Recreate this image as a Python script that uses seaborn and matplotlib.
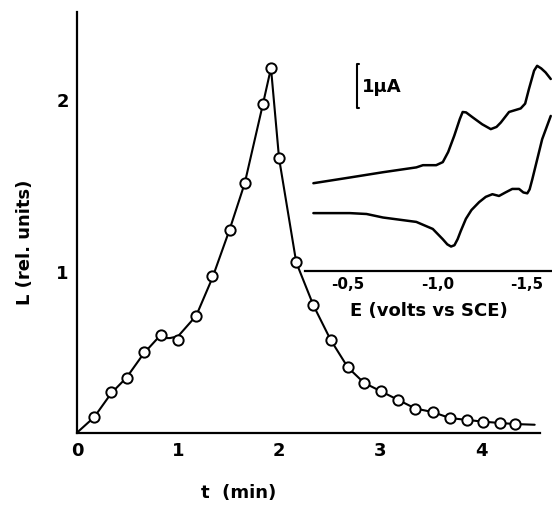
import numpy as np
import matplotlib
matplotlib.use("Agg")
import matplotlib.pyplot as plt
import seaborn as sns

# Main plot: L vs t (markers)
t_pts = [0.17, 0.34, 0.49, 0.66, 0.83, 1.00, 1.18, 1.34, 1.51, 1.66, 1.84, 1.92,
         2.00, 2.17, 2.34, 2.51, 2.68, 2.84, 3.01, 3.18, 3.35, 3.52, 3.69, 3.86,
         4.02, 4.19, 4.34]
L_pts = [0.15, 0.295, 0.38, 0.53, 0.63, 0.60, 0.74, 0.97, 1.24, 1.51, 1.97, 2.18,
         1.655, 1.05, 0.80, 0.60, 0.44, 0.35, 0.30, 0.25, 0.20, 0.18, 0.145, 0.134,
         0.124, 0.116, 0.11]

# Drawn curve (passes near the markers)
t_curve = [0.0, 0.17, 0.34, 0.49, 0.66, 0.80, 0.92, 1.00, 1.18, 1.34, 1.51, 1.66,
           1.84, 1.92, 2.00, 2.17, 2.34, 2.51, 2.68, 2.84, 3.01, 3.18, 3.35, 3.52,
           3.69, 3.86, 4.02, 4.19, 4.34, 4.53]
L_curve = [0.06, 0.15, 0.29, 0.38, 0.52, 0.61, 0.61, 0.62, 0.74, 0.96, 1.24, 1.51,
           1.97, 2.18, 1.655, 1.05, 0.80, 0.60, 0.44, 0.35, 0.30, 0.25, 0.20, 0.18,
           0.145, 0.134, 0.124, 0.116, 0.11, 0.106]

# Inset: cyclic voltammogram (E in V vs SCE, current in uA, arbitrary offset)
E_fwd = [-0.307, -0.511, -0.696, -0.882, -0.919, -0.993, -1.030, -1.060, -1.094,
         -1.125, -1.141, -1.160, -1.196, -1.250, -1.298, -1.330, -1.354, -1.400,
         -1.465, -1.490, -1.511, -1.540, -1.557, -1.580, -1.604, -1.633]
i_fwd = [1.99, 2.12, 2.24, 2.35, 2.40, 2.40, 2.47, 2.70, 3.07,
         3.45, 3.61, 3.60, 3.49, 3.33, 3.22, 3.27, 3.37, 3.61,
         3.69, 3.80, 4.13, 4.55, 4.66, 4.60, 4.51, 4.36]
E_rev = [-1.633, -1.585, -1.530, -1.515, -1.502, -1.480, -1.456, -1.418, -1.380,
         -1.344, -1.307, -1.270, -1.233, -1.190, -1.159, -1.130, -1.113, -1.095,
         -1.076, -1.055, -1.029, -0.974, -0.882, -0.696, -0.604, -0.511, -0.307]
i_rev = [3.52, 2.99, 2.08, 1.85, 1.76, 1.78, 1.86, 1.86, 1.78,
         1.70, 1.74, 1.68, 1.56, 1.38, 1.18, 0.90, 0.72, 0.58,
         0.55, 0.60, 0.72, 0.95, 1.11, 1.21, 1.29, 1.31, 1.31]
E_ticks = [-0.5, -1.0, -1.5]
E_ticklabels = ["-0,5", "-1,0", "-1,5"]

sns.set_style("white")
plt.rcParams['font.family'] = ['DejaVu Sans']
plt.rcParams['font.weight'] = 'bold'
plt.rcParams['text.color'] = 'black'
plt.rcParams['axes.labelcolor'] = 'black'
plt.rcParams['xtick.color'] = 'black'
plt.rcParams['ytick.color'] = 'black'

fig = plt.figure(figsize=(5.52, 5.06), dpi=100)
ax = fig.add_axes([0.1395, 0.1423, 0.839, 0.832])

sns.lineplot(x=t_curve, y=L_curve, ax=ax, color="black", linewidth=1.5,
             estimator=None, sort=False)
sns.scatterplot(x=t_pts, y=L_pts, ax=ax, marker="o", s=55, facecolor="white",
                edgecolor="black", linewidth=1.4, zorder=3)

ax.set_xlim(0, 4.584)
ax.set_ylim(0.058, 2.506)
ax.set_xticks([0, 1, 2, 3, 4])
ax.set_yticks([1, 2])
ax.tick_params(direction="in", length=6, width=1.5, labelsize=13, pad=6)
for lab in ax.get_xticklabels() + ax.get_yticklabels():
    lab.set_fontweight("bold")
sns.despine(ax=ax)
for s in ["left", "bottom"]:
    ax.spines[s].set_linewidth(1.6)
    ax.spines[s].set_color("black")
ax.set_xlabel("t  (min)", fontsize=13, fontweight="bold")
ax.set_ylabel("L (rel. units)", fontsize=13, fontweight="bold")
ax.xaxis.set_label_coords(0.35, -0.118)
ax.yaxis.set_label_coords(-0.092, 0.455)

# Inset
ins = fig.add_axes([0.5525, 0.463, 0.4475, 0.438])
ins.set_facecolor("none")
sns.lineplot(x=E_fwd, y=i_fwd, ax=ins, color="black", linewidth=1.8,
             estimator=None, sort=False)
sns.lineplot(x=E_rev, y=i_rev, ax=ins, color="black", linewidth=1.8,
             estimator=None, sort=False)
ins.set_xlim(-0.26, -1.64)
ins.set_ylim(0, 5.04)
ins.set_xticks(E_ticks)
ins.set_xticklabels(E_ticklabels)
ins.set_yticks([])
ins.tick_params(axis="x", direction="in", length=5, width=1.3, labelsize=11, pad=4)
for lab in ins.get_xticklabels():
    lab.set_fontweight("bold")
for s in ["left", "top", "right"]:
    ins.spines[s].set_visible(False)
ins.spines["bottom"].set_linewidth(1.6)
ins.spines["bottom"].set_color("black")
ins.set_xlabel("E (volts vs SCE)", fontsize=13, fontweight="bold", labelpad=7)

# 1 uA scale bar, drawn as a "[" bracket
ins.plot([-0.560, -0.548, -0.548, -0.560], [4.70, 4.70, 3.69, 3.69],
         color="black", linewidth=1.5)
ins.text(-0.58, 4.2, "1\u03bcA", fontsize=13, fontweight="bold", va="center", ha="left")

fig.savefig("out.png", dpi=100)
